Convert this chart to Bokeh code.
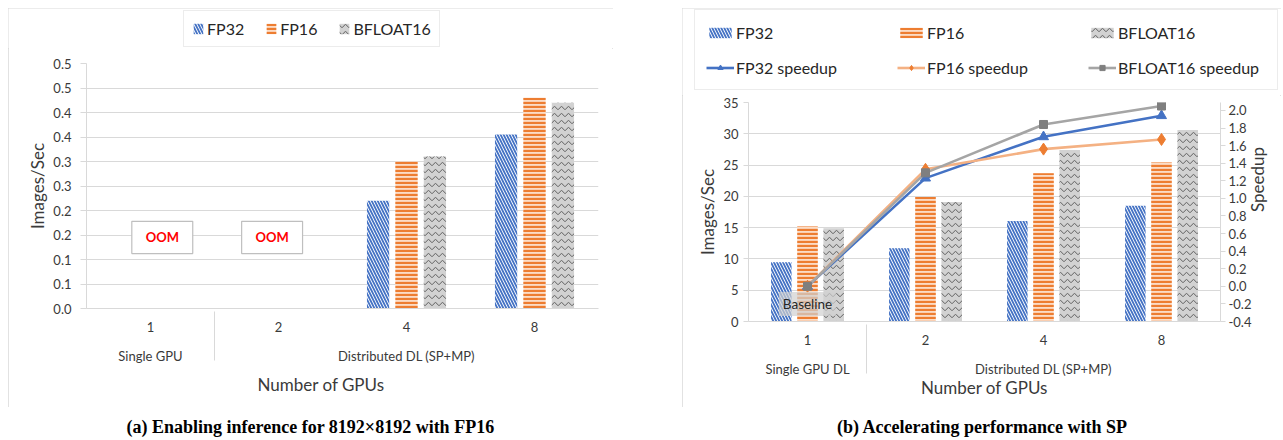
import math
import numpy as np
from bokeh.plotting import figure
from bokeh.layouts import row, column
from bokeh.models import (FactorRange, Range1d, LinearAxis, FixedTicker, Legend, LegendItem,
                          Label, BoxAnnotation, ColumnDataSource, NumeralTickFormatter, Title)
from bokeh.transform import dodge
from bokeh.embed import file_html
from bokeh.resources import INLINE

# ---------------- data ----------------
NAN = float("nan")
GPUS = ["1", "2", "4", "8"]
GROUPS_A = ["Single GPU", "Distributed DL (SP+MP)", "Distributed DL (SP+MP)", "Distributed DL (SP+MP)"]
GROUPS_B = ["Single GPU DL", "Distributed DL (SP+MP)", "Distributed DL (SP+MP)", "Distributed DL (SP+MP)"]

A_FP32 = [NAN, NAN, 0.22, 0.355]
A_FP16 = [NAN, NAN, 0.30, 0.43]
A_BF16 = [NAN, NAN, 0.31, 0.42]
A_OOM = ["OOM", "OOM"]                  # GPUs 1 and 2 ran out of memory
A_YTICKS = [0.0, 0.05, 0.1, 0.15, 0.2, 0.25, 0.3, 0.35, 0.4, 0.45, 0.5]
A_YLABELS = ["0.0", "0.1", "0.1", "0.2", "0.2", "0.3", "0.3", "0.4", "0.4", "0.5", "0.5"]

B_FP32 = [9.45, 11.7, 16.05, 18.5]
B_FP16 = [15.2, 19.9, 23.7, 25.4]
B_BF16 = [14.9, 19.1, 27.4, 30.6]
B_FP32_SPEEDUP = [0.0, 1.23, 1.70, 1.94]
B_FP16_SPEEDUP = [0.0, 1.33, 1.56, 1.67]
B_BF16_SPEEDUP = [0.0, 1.29, 1.84, 2.05]
B_YTICKS = [0, 5, 10, 15, 20, 25, 30, 35]
B_Y2TICKS = [-0.4, -0.2, 0.0, 0.2, 0.4, 0.6, 0.8, 1.0, 1.2, 1.4, 1.6, 1.8, 2.0]
B_Y2_MIN, B_Y2_MAX = -0.4, 2.09

SERIES = ["FP32", "FP16", "BFLOAT16"]
CAPTION_A = "(a) Enabling inference for 8192×8192 with FP16"
CAPTION_B = "(b) Accelerating performance with SP"

# ---------------- style ----------------
FONT = "Lato"
SERIF = "Liberation Serif"
GRID = "#d9d9d9"
TXT = "#3a3a3a"
BLUE, ORANGE, GRAY = "#4472C4", "#ED7D31", "#A5A5A5"
BOX_H = 399      # bordered chart box
CAP_H = 33       # caption strip below the box
OFF, BW = 0.222, 0.174
BOX_STYLE = {"outline": "1px solid #d9d9d9", "outline-offset": "-1px"}

BAR_STYLE = {
    "FP32": dict(fill_color="white", hatch_pattern="\\", hatch_color=BLUE, hatch_scale=6, hatch_weight=1.8),
    "FP16": dict(fill_color="#FBDCC6", hatch_pattern="-", hatch_color=ORANGE, hatch_scale=4, hatch_weight=2.3),
    "BFLOAT16": dict(fill_color="#D2D2D2", hatch_pattern="v", hatch_color="#606060", hatch_scale=7, hatch_weight=1),
}
LINE_STYLE = [dict(line_color=BLUE, marker_color=BLUE, marker="triangle", size=10),
              dict(line_color="#F4B183", marker_color=ORANGE, marker="diamond", size=12),
              dict(line_color=GRAY, marker_color="#7F7F7F", marker="square", size=8)]


def no_align(p):
    if "frame_align" in p.properties():
        p.frame_align = False


def blank_fig(width, height):
    c = figure(width=width, height=height, x_range=Range1d(0, width), y_range=Range1d(0, height),
               output_backend="svg", toolbar_location=None, tools="", min_border=0,
               x_axis_location=None, y_axis_location=None)
    no_align(c)
    c.grid.visible = False
    c.outline_line_color = None
    c.background_fill_color = "white"
    c.border_fill_color = "white"
    return c


def make_fig(width, height, left, top, fw, fh, y_range, groups):
    factors = list(zip(groups, GPUS))
    p = figure(width=width, height=height,
               x_range=FactorRange(factors=factors, range_padding=0, group_padding=0,
                                   factor_padding=0, subgroup_padding=0),
               y_range=y_range, output_backend="svg", toolbar_location=None, tools="",
               min_border_left=left, min_border_right=width - left - fw,
               min_border_top=top, min_border_bottom=height - top - fh)
    no_align(p)
    p.outline_line_color = None
    p.background_fill_color = "white"
    p.border_fill_color = "white"
    p.xgrid.grid_line_color = None
    p.ygrid.grid_line_color = GRID
    xa = p.xaxis[0]
    xa.axis_line_color = GRID
    xa.major_tick_line_color = None
    xa.minor_tick_line_color = None
    xa.major_tick_out = 0
    xa.major_tick_in = 0
    xa.major_label_standoff = 13
    xa.major_label_text_font = FONT
    xa.major_label_text_font_size = "13px"
    xa.major_label_text_color = TXT
    xa.group_text_font = FONT
    xa.group_text_font_size = "13px"
    xa.group_text_font_style = "normal"
    xa.group_text_color = TXT
    xa.separator_line_color = GRID
    xa.separator_line_width = 1
    return p, factors


def style_y(ax, ticks, tick_out, standoff):
    ax.ticker = FixedTicker(ticks=ticks)
    ax.axis_line_color = GRID
    ax.major_tick_line_color = GRID
    ax.minor_tick_line_color = None
    ax.major_tick_out = tick_out
    ax.major_tick_in = 0
    ax.major_label_standoff = standoff
    ax.major_label_text_font = FONT
    ax.major_label_text_font_size = "13px"
    ax.major_label_text_color = TXT
    ax.axis_label_text_font = FONT
    ax.axis_label_text_font_size = "17px"
    ax.axis_label_text_font_style = "normal"
    ax.axis_label_text_color = TXT


def add_bars(p, src, cols):
    rs = []
    for i, (name, col) in enumerate(zip(SERIES, cols)):
        rs.append(p.vbar(x=dodge("x", (i - 1) * OFF, range=p.x_range), top=col, width=BW,
                         source=src, line_color=None, **BAR_STYLE[name]))
    return rs


def legend_fig(width, height, loc, with_lines, **kw):
    """Key strip above a chart: swatches styled like the chart's series (kept off-range)."""
    c = blank_fig(width, height)
    items = []
    for name in SERIES:
        r = c.vbar(x=[-100], top=[-100], width=1, line_color=None, **BAR_STYLE[name])
        items.append(LegendItem(label=name, renderers=[r]))
    if with_lines:
        for name, st in zip(SERIES, LINE_STYLE):
            ln = c.line(x=[-100, -90], y=[-100, -100], line_color=st["line_color"], line_width=2.6)
            mk = c.scatter(x=[-100], y=[-100], marker=st["marker"], size=st["size"],
                           fill_color=st["marker_color"], line_color=st["marker_color"])
            items.append(LegendItem(label=name + " speedup", renderers=[ln, mk]))
    c.add_layout(Legend(items=items, location=loc, orientation="horizontal", margin=0,
                        label_text_font=FONT, label_text_font_size="16px",
                        label_text_color="#262626", border_line_color=GRID,
                        border_line_width=1.2, background_fill_color="white",
                        background_fill_alpha=1, **kw))
    return c


def caption_fig(width, text, cx):
    c = blank_fig(width, CAP_H)
    c.add_layout(Label(x=cx, y=CAP_H - 19, text=text, text_align="center", text_baseline="middle",
                       text_font=SERIF, text_font_size="18px", text_font_style="bold",
                       text_color="black"))
    return c


# =============== left chart (a) ===============
WA, LEG_HA = 605, 40
pa, fac_a = make_fig(WA, BOX_H - LEG_HA, 78, 15, 512, 245, Range1d(0, 0.5), GROUPS_A)
ya = pa.yaxis[0]
style_y(ya, A_YTICKS, 6, 9)
ya.major_label_overrides = dict(zip(A_YTICKS, A_YLABELS))
ya.axis_label = "Images/Sec"
ya.axis_label_standoff = 2
pa.ygrid[0].ticker = ya.ticker

src_a = ColumnDataSource(dict(x=fac_a, fp32=np.array(A_FP32), fp16=np.array(A_FP16),
                              bf16=np.array(A_BF16)))
add_bars(pa, src_a, ["fp32", "fp16", "bf16"])

for (cx, txt) in zip([0.592, 1.45], A_OOM):
    pa.add_layout(BoxAnnotation(left=cx - 0.238, right=cx + 0.238, bottom=0.112, top=0.178,
                                fill_color="white", fill_alpha=1, line_color="#bfbfbf",
                                line_alpha=1, line_width=1.2, line_dash="solid"))
    pa.add_layout(Label(x=cx, y=0.145, text=txt, text_align="center", text_baseline="middle",
                        text_font=FONT, text_font_size="13px", text_font_style="bold",
                        text_color="#FF0000"))

pa.add_layout(Title(text="Number of GPUs", align="left", offset=171, standoff=12,
                    vertical_align="middle", text_font=FONT, text_font_size="17px",
                    text_font_style="normal", text_color=TXT), "below")

la = legend_fig(WA, LEG_HA, (175, 1), False, glyph_width=12, glyph_height=13,
                label_standoff=3, spacing=21, padding=8, label_height=16)

# =============== right chart (b) ===============
WB, LEG_HB = 599, 87
pb, fac_b = make_fig(WB, BOX_H - LEG_HB, 66, 7, 476, 219, Range1d(0, 35), GROUPS_B)
yb = pb.yaxis[0]
style_y(yb, B_YTICKS, 5, 5)
yb.axis_label = "Images/Sec"
yb.axis_label_standoff = 2
pb.ygrid[0].ticker = yb.ticker
xb = pb.xaxis[0]
xb.axis_label = "Number of GPUs"
xb.axis_label_standoff = -3
xb.axis_label_text_font = FONT
xb.axis_label_text_font_size = "17px"
xb.axis_label_text_font_style = "normal"
xb.axis_label_text_color = TXT

pb.extra_y_ranges = {"speed": Range1d(B_Y2_MIN, B_Y2_MAX)}
y2 = LinearAxis(y_range_name="speed", formatter=NumeralTickFormatter(format="0.0"))
style_y(y2, B_Y2TICKS, 5, 3)
y2.axis_label = "Speedup"
y2.axis_label_standoff = 3
if "axis_label_orientation" in y2.properties():
    y2.axis_label_orientation = math.pi / 2
pb.add_layout(y2, "right")

src_b = ColumnDataSource(dict(x=fac_b, fp32=B_FP32, fp16=B_FP16, bf16=B_BF16,
                              s32=B_FP32_SPEEDUP, s16=B_FP16_SPEEDUP, sbf=B_BF16_SPEEDUP))
add_bars(pb, src_b, ["fp32", "fp16", "bf16"])
for col, st in zip(["s32", "s16", "sbf"], LINE_STYLE):
    pb.line(x="x", y=col, source=src_b, y_range_name="speed", line_color=st["line_color"],
            line_width=2.6)
    pb.scatter(x="x", y=col, source=src_b, y_range_name="speed", marker=st["marker"],
               size=st["size"], fill_color=st["marker_color"], line_color=st["marker_color"])

pb.add_layout(Label(x=0.5, y=-0.2, y_range_name="speed", text="Baseline", text_align="center",
                    text_baseline="middle", text_font=FONT, text_font_size="13.5px",
                    text_color="#262626", background_fill_color="#d0d0d0",
                    background_fill_alpha=0.7, padding=4))

lb = legend_fig(WB, LEG_HB, (12, 5), True, ncols=3, glyph_width=28, glyph_height=13,
                label_standoff=2, label_width=148, label_height=22, spacing=13, padding=11)

box_a = column(la, pa, styles=BOX_STYLE)
box_b = column(lb, pb, styles=BOX_STYLE)
layout = row(column(box_a, caption_fig(WA, CAPTION_A, 302)),
             column(box_b, caption_fig(WB, CAPTION_B, 300)),
             spacing=682 - 8 - WA, margin=(8, 0, 0, 8))
open("out.html", "w").write(file_html(layout, INLINE))
